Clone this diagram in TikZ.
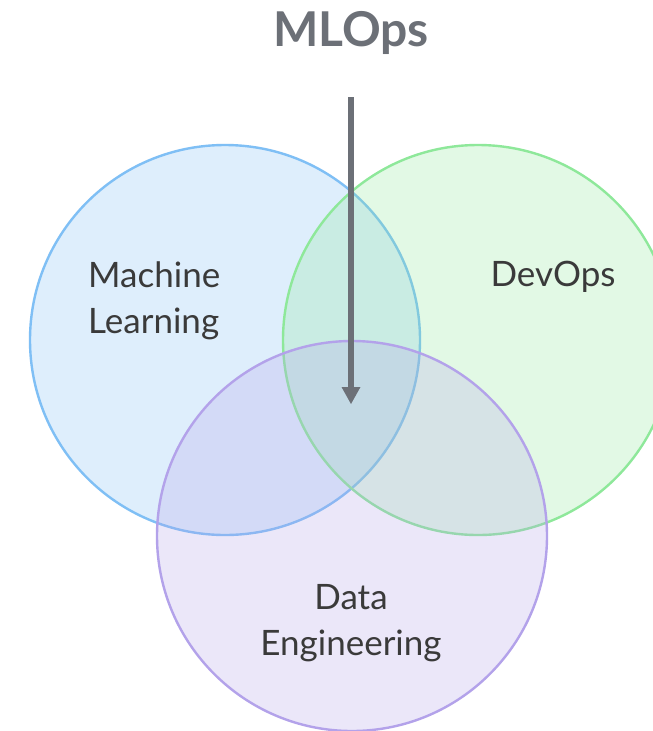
\documentclass[tikz,border=0pt]{standalone}
\usepackage{fontspec}
\setmainfont{Lato}
\usetikzlibrary{arrows.meta}
\definecolor{mlstroke}{HTML}{7FBFF5}
\definecolor{devstroke}{HTML}{8EE89A}
\definecolor{destroke}{HTML}{B3A2EA}
\definecolor{arrowgray}{HTML}{6C7077}
\definecolor{labeltext}{HTML}{3A3A3A}
\tikzset{
  setcircle/.style={circle, minimum size=390pt, inner sep=0pt, line width=2.4pt, fill opacity=0.25, draw opacity=1},
  setlabel/.style={text=labeltext, font=\fontsize{35}{46}\selectfont, inner sep=0pt},
  pointer/.style={draw=arrowgray, line width=6pt, -{Triangle[length=17pt,width=19pt,line width=0pt]}},
}
\begin{document}
\begin{tikzpicture}[x=1pt,y=-1pt]
  \clip (0,0) rectangle (653,731);
  \fill[white] (0,0) rectangle (653,731);
  % the three overlapping sets
  \node[setcircle, draw=mlstroke, fill=mlstroke] (ml) at (225,340) {};
  \node[setcircle, draw=devstroke, fill=devstroke] (dev) at (478,340) {};
  \node[setcircle, draw=destroke, fill=destroke] (de) at (352,536) {};
  % set names
  \node[setlabel, anchor=west, align=left] (mltext) at (88,301) {Machine\\Learning};
  \node[setlabel] (devtext) at (553,277) {DevOps};
  \node[setlabel, align=center] (detext) at (351,623) {Data\\Engineering};
  % title and pointer into the common intersection
  \node[text=arrowgray, font=\fontsize{48}{50}\selectfont\bfseries] (title) at (351,33) {MLOps};
  \coordinate (start) at (351,97);
  \coordinate (core) at (351,404);
  \draw[pointer] (start) -- (core);
\end{tikzpicture}
\end{document}
